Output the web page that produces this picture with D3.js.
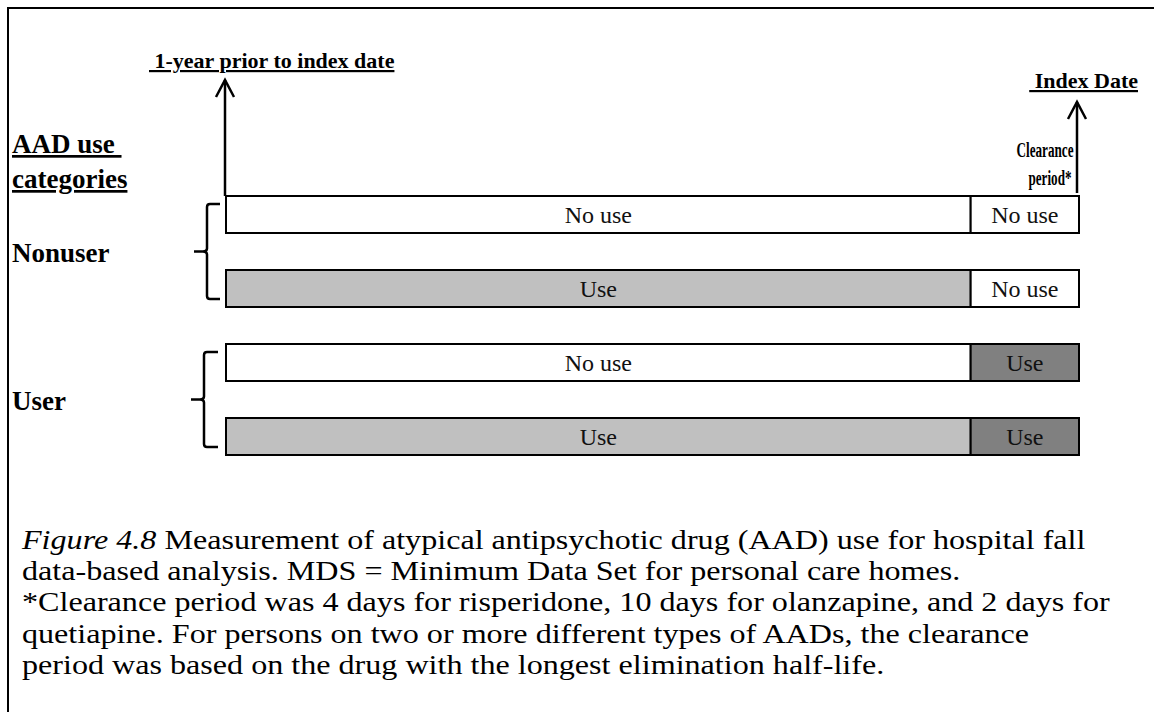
<!DOCTYPE html>
<html>
<head>
  <meta charset="UTF-8">
  <style>
    body { margin: 0; background: #fff; }
    svg { display: block; font-family: 'Liberation Serif', 'Times New Roman', serif; }
    .head { font-weight: bold; font-size: 22px; text-decoration: underline; }
    .cat-title { font-weight: bold; font-size: 27px; text-decoration: underline; }
    .group-label { font-weight: bold; font-size: 27px; }
    .clear-label { font-weight: bold; font-size: 20px; text-anchor: middle; }
    .bar-label { font-size: 24px; text-anchor: middle; fill: #111; }
    .caption { font-size: 27px; fill: #000; }
  </style>
</head>
<body>
  <script src="https://d3js.org/d3.v7.min.js"></script>
  <svg id="chart" width="1154" height="712"></svg>
  <script>
    // rows of the diagram, top to bottom
    let rows = ["nonuser-a", "nonuser-b", "user-a", "user-b"];
    let priorStatus = ["No use", "Use", "No use", "Use"];
    let clearanceStatus = ["No use", "No use", "Use", "Use"];
    let groups = ["Nonuser", "User"];
    let groupRows = [[0, 1], [2, 3]];
    // period boundaries (arbitrary units): prior year start, clearance start, index date
    let periodBreaks = [0, 87.3, 100];
    let captionLines = [
      "Measurement of atypical antipsychotic drug (AAD) use for hospital fall",
      "data-based analysis. MDS = Minimum Data Set for personal care homes.",
      "*Clearance period was 4 days for risperidone, 10 days for olanzapine, and 2 days for",
      "quetiapine. For persons on two or more different types of AADs, the clearance",
      "period was based on the drug with the longest elimination half-life."
    ];

    let fills = { "No use": "#ffffff", "Use": "#c0c0c0", "UseClear": "#808080" };

    let svg = d3.select("#chart");

    // outer frame (left and top edges only visible)
    svg.append("path")
      .attr("d", "M8,712 V8 H1154")
      .attr("fill", "none")
      .attr("stroke", "#000")
      .attr("stroke-width", 2);

    let x = d3.scaleLinear().domain([0, 100]).range([226, 1079]);
    let y = d3.scaleBand().domain(d3.range(rows.length)).range([196, 455])
      .paddingInner(0.5).paddingOuter(0);
    let bh = y.bandwidth();

    let rowG = svg.selectAll("g.row").data(rows).enter().append("g").attr("class", "row");

    // prior-year segment
    rowG.append("rect")
      .attr("x", x(periodBreaks[0]))
      .attr("y", (d, i) => y(i))
      .attr("width", x(periodBreaks[1]) - x(periodBreaks[0]))
      .attr("height", bh)
      .attr("fill", (d, i) => fills[priorStatus[i]])
      .attr("stroke", "#000")
      .attr("stroke-width", 2);

    // clearance segment
    rowG.append("rect")
      .attr("x", x(periodBreaks[1]))
      .attr("y", (d, i) => y(i))
      .attr("width", x(periodBreaks[2]) - x(periodBreaks[1]))
      .attr("height", bh)
      .attr("fill", (d, i) => clearanceStatus[i] === "Use" ? fills.UseClear : fills["No use"])
      .attr("stroke", "#000")
      .attr("stroke-width", 2);

    rowG.append("text")
      .attr("class", "bar-label")
      .attr("x", (x(periodBreaks[0]) + x(periodBreaks[1])) / 2)
      .attr("y", (d, i) => y(i) + bh / 2 + 8)
      .text((d, i) => priorStatus[i]);

    rowG.append("text")
      .attr("class", "bar-label")
      .attr("x", (x(periodBreaks[1]) + x(periodBreaks[2])) / 2)
      .attr("y", (d, i) => y(i) + bh / 2 + 8)
      .text((d, i) => clearanceStatus[i]);

    // group braces and labels
    groups.forEach(function(g, gi) {
      let top = y(groupRows[gi][0]) + 8;
      let bot = y(groupRows[gi][1]) + bh - 8;
      let mid = (top + bot) / 2;
      let vx = 207 - gi * 3, ex = 220 - gi * 2, tx = vx - 13;
      svg.append("path")
        .attr("d", "M" + ex + "," + top + " H" + (vx + 3) + " Q" + vx + "," + top + " " + vx + "," + (top + 3) +
          " V" + (mid - 3) + " Q" + vx + "," + mid + " " + (vx - 4) + "," + mid + " H" + tx +
          " M" + (vx - 4) + "," + mid + " Q" + vx + "," + mid + " " + vx + "," + (mid + 3) +
          " V" + (bot - 3) + " Q" + vx + "," + bot + " " + (vx + 3) + "," + bot + " H" + ex)
        .attr("fill", "none")
        .attr("stroke", "#000")
        .attr("stroke-width", 2.5);
      svg.append("text")
        .attr("class", "group-label")
        .attr("x", 12)
        .attr("y", mid + 10)
        .text(g);
    });

    // arrows
    function arrow(ax, y0, y1) {
      svg.append("line")
        .attr("x1", ax).attr("x2", ax).attr("y1", y0).attr("y2", y1)
        .attr("stroke", "#000").attr("stroke-width", 2.5);
      svg.append("path")
        .attr("d", "M" + (ax - 9) + "," + (y1 + 17) + " L" + ax + "," + y1 + " L" + (ax + 9) + "," + (y1 + 17))
        .attr("fill", "none").attr("stroke", "#000").attr("stroke-width", 2.5);
    }
    arrow(x(periodBreaks[0]) - 1, y(0), 80);
    arrow(x(periodBreaks[2]) - 2, y(0) - 3, 102);

    // headings
    svg.append("text").attr("class", "head")
      .attr("x", 149).attr("y", 68)
      .text("\u00a01-year prior to index date");
    svg.append("text").attr("class", "head")
      .attr("x", 1138).attr("y", 88).attr("text-anchor", "end")
      .text("\u00a0Index Date");
    svg.append("text").attr("class", "clear-label")
      .attr("x", 1045).attr("y", 157)
      .attr("textLength", 57).attr("lengthAdjust", "spacingAndGlyphs")
      .text("Clearance");
    svg.append("text").attr("class", "clear-label")
      .attr("x", 1050).attr("y", 185)
      .attr("textLength", 43).attr("lengthAdjust", "spacingAndGlyphs")
      .text("period*");
    svg.append("text").attr("class", "cat-title")
      .attr("x", 12).attr("y", 153).text("AAD use\u00a0");
    svg.append("text").attr("class", "cat-title")
      .attr("x", 12).attr("y", 188).text("categories");

    // caption (the source text is set a little wide)
    let cap = svg.append("g").attr("class", "caption")
      .attr("transform", "translate(22,0) scale(1.19,1)");
    captionLines.forEach(function(line, i) {
      let t = cap.append("text").attr("x", 0).attr("y", 549 + i * 31.2);
      if (i === 0) {
        t.append("tspan").attr("font-style", "italic").text("Figure 4.8");
        t.append("tspan").text(" " + line);
      } else {
        t.text(line);
      }
    });
  </script>
</body>
</html>
